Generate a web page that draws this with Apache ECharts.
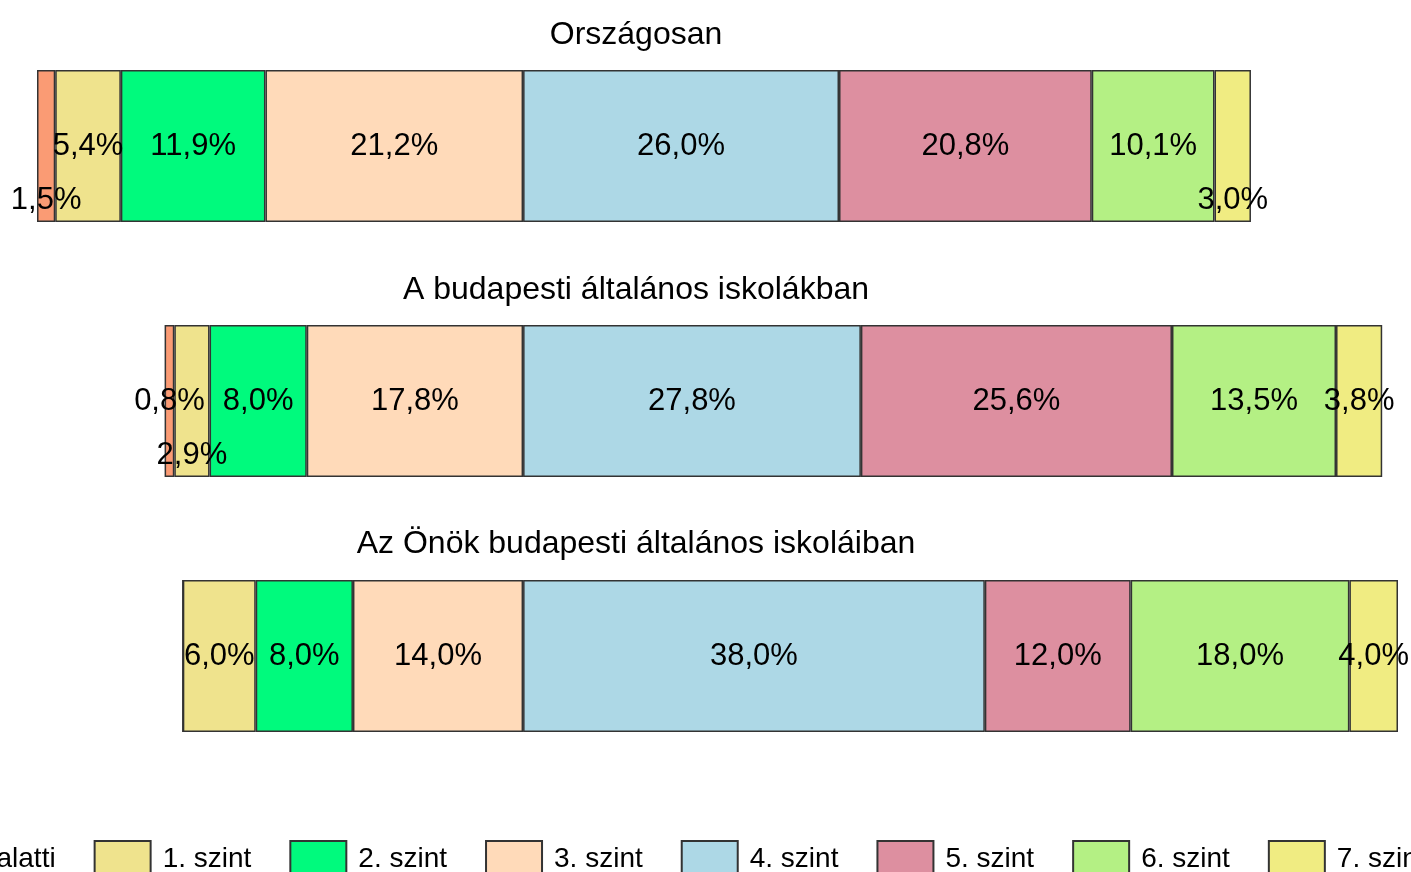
<!DOCTYPE html>
<html><head><meta charset="utf-8">
<script src="https://cdn.jsdelivr.net/npm/echarts@6/dist/echarts.min.js"></script>
<style>html,body{margin:0;padding:0;background:#fff}#chart{width:1411px;height:872px}</style>
</head><body><div id="chart"></div>
<script>
// ---- data ----
const groups = ['Országosan', 'A budapesti általános iskolákban', 'Az Önök budapesti általános iskoláiban'];
const levels = ['1. szint alatti', '1. szint', '2. szint', '3. szint', '4. szint', '5. szint', '6. szint', '7. szint'];
const belowLevel1 = [1.5, 0.8, 0.0];
const level1 = [5.4, 2.9, 6.0];
const level2 = [11.9, 8.0, 8.0];
const level3 = [21.2, 17.8, 14.0];
const level4 = [26.0, 27.8, 38.0];
const level5 = [20.8, 25.6, 12.0];
const level6 = [10.1, 13.5, 18.0];
const level7 = [3.0, 3.8, 4.0];

// ---- style ----
const colors = ['#FA9B74', '#EFE38D', '#00FA7D', '#FFDAB9', '#ADD8E6', '#DD8FA0', '#B4F084', '#F0EC82'];
const FONT = '"Liberation Sans", Arial, sans-serif';
// labels pushed to the bottom of the bar (level index -> group indices)
const lowered = {0: [0], 1: [1], 7: [0]};

const values = [belowLevel1, level1, level2, level3, level4, level5, level6, level7];
const leftCount = 4; // levels below the 3/4 boundary are drawn to the left of zero
const drawOrder = [3, 2, 1, 0, 4, 5, 6, 7];

const fmt = v => Math.abs(v).toFixed(1).replace('.', ',') + '%';

const series = drawOrder.map(i => ({
  name: levels[i],
  type: 'bar',
  stack: 'total',
  barWidth: 152,
  itemStyle: {color: colors[i], borderColor: '#333', borderWidth: 1.5},
  label: {
    show: true, position: 'inside', color: '#000',
    fontFamily: FONT, fontSize: 31,
    formatter: p => fmt(p.value)
  },
  emphasis: {disabled: true},
  data: values[i].map((v, j) => {
    const d = {value: i < leftCount ? -v : v};
    if (v === 0) d.label = {show: false};
    else if (lowered[i] && lowered[i].includes(j)) d.label = {offset: [0, 54]};
    return d;
  })
}));

const titleTops = [14, 269, 523];
const chart = echarts.init(document.getElementById('chart'));
chart.setOption({
  animation: false,
  title: groups.map((g, k) => ({
    text: g, left: 631, top: titleTops[k], textAlign: 'center',
    textStyle: {fontFamily: FONT, fontSize: 32, fontWeight: 'normal', color: '#000'}
  })),
  grid: {left: 37, right: 13, top: 18.5, bottom: 88.5},
  xAxis: {type: 'value', min: -40, max: 72, show: false},
  yAxis: {type: 'category', data: groups, inverse: true, show: false},
  legend: {
    data: levels, left: -169, top: 840, width: 1900, padding: 0,
    itemWidth: 56, itemHeight: 36, itemGap: 38,
    icon: 'rect',
    textStyle: {fontFamily: FONT, fontSize: 28, color: '#000', padding: [0, 0, 0, 7]}
  },
  series: series
});
</script></body></html>
